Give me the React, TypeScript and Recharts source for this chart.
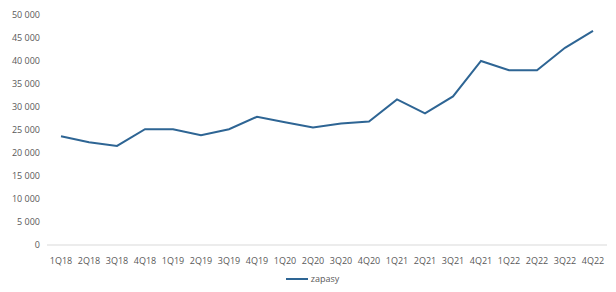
import React from "react";
import { LineChart, Line, XAxis, YAxis, Legend } from "recharts";

const QUARTERS = [
  "1Q18", "2Q18", "3Q18", "4Q18",
  "1Q19", "2Q19", "3Q19", "4Q19",
  "1Q20", "2Q20", "3Q20", "4Q20",
  "1Q21", "2Q21", "3Q21", "4Q21",
  "1Q22", "2Q22", "3Q22", "4Q22",
];

const ZAPASY = [
  23650, 22340, 21550, 25180,
  25180, 23870, 25180, 27880,
  26700, 25540, 26420, 26850,
  31650, 28600, 32310, 40010,
  37990, 37990, 42860, 46570,
];

const Y_TICKS = [0, 5000, 10000, 15000, 20000, 25000, 30000, 35000, 40000, 45000, 50000];

const DATA = QUARTERS.map((q, i) => ({ name: q, zapasy: ZAPASY[i] }));

const fmt = (v: number) => String(v).replace(/\B(?=(\d{3})+(?!\d))/g, " ");

const FONT = "'Open Sans', sans-serif";
const TEXT = "#595959";
const BLUE = "#2e6594";

const LegendBox = () => (
  <div style={{ display: "flex", justifyContent: "center", alignItems: "center", paddingLeft: 18, fontSize: 9, fontFamily: FONT, color: TEXT }}>
    <svg width={22} height={4} style={{ marginRight: 3 }}>
      <line x1={0} y1={2} x2={22} y2={2} stroke={BLUE} strokeWidth={2} />
    </svg>
    <span>zapasy</span>
  </div>
);

const App = () => {
  return (
    <div style={{ position: "absolute", left: 0, top: 0, width: 616, height: 292, background: "#fff", fontFamily: FONT }}>
      <LineChart
        width={616}
        height={292}
        data={DATA}
        margin={{ top: 15, right: 9, left: 0, bottom: 0 }}
      >
        <XAxis
          dataKey="name"
          height={27}
          tickLine={false}
          axisLine={{ stroke: "#d9d9d9" }}
          tickMargin={7}
          interval={0}
          padding={{ left: 14, right: 14 }}
          tick={{ fill: TEXT, fontSize: 9, fontFamily: FONT }}
        />
        <YAxis
          width={47}
          domain={[0, 50000]}
          ticks={Y_TICKS}
          tickFormatter={fmt}
          axisLine={false}
          tickLine={false}
          tickSize={0}
          tickMargin={7}
          tick={{ fill: TEXT, fontSize: 9, fontFamily: FONT }}
        />
        <Legend verticalAlign="bottom" height={20} content={<LegendBox />} />
        <Line
          type="linear"
          dataKey="zapasy"
          stroke={BLUE}
          strokeWidth={2}
          dot={false}
          isAnimationActive={false}
        />
      </LineChart>
    </div>
  );
};

export default App;
